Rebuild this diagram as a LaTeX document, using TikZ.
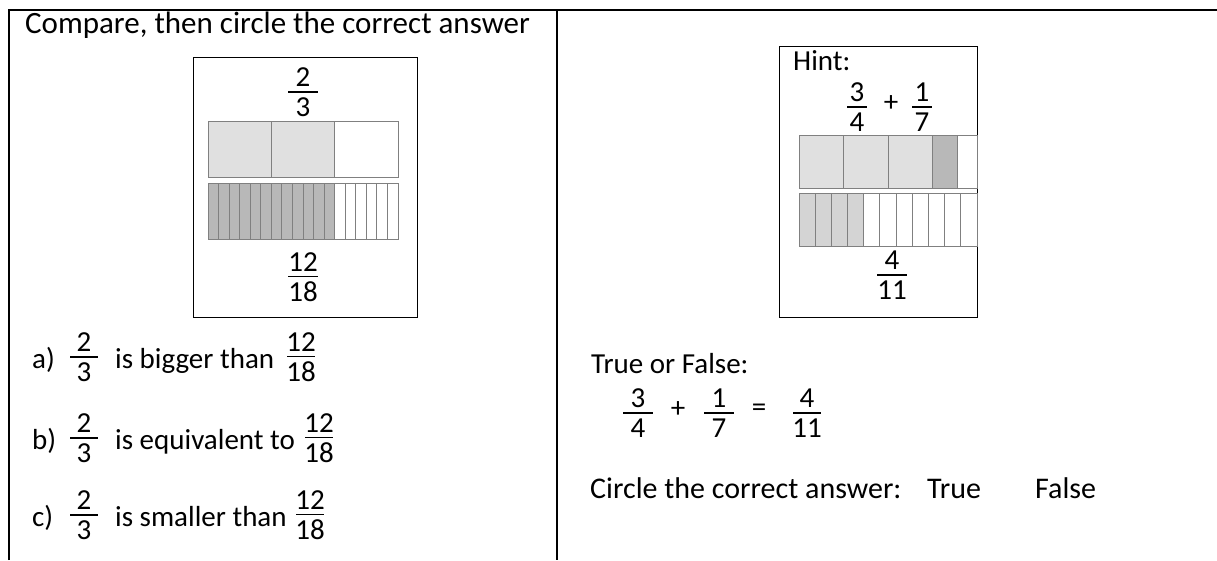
\documentclass[tikz,border=0pt]{standalone}
\usepackage{fontspec}
\setmainfont{Carlito}
\definecolor{barlight}{HTML}{E0E0E0}
\definecolor{bardark}{HTML}{B8B8B8}
\definecolor{barmid}{HTML}{D4D4D4}
\definecolor{barline}{HTML}{808080}
% stacked fraction with a fixed bar width
\newcommand{\fr}[3][28pt]{\vbox{\offinterlineskip\halign{\hfil##\hfil\cr
  #2\cr\noalign{\kern4.5pt}\rule{#1}{1.8pt}\cr\noalign{\kern4.5pt}#3\cr}}}

\begin{document}
\begin{tikzpicture}[x=1pt,y=-1pt,
  txt/.style={inner sep=0pt, font=\fontsize{29}{34}\selectfont},
  cell/.style={draw=barline, line width=1pt}]
  \useasboundingbox (0,0) rectangle (1217,560);
  % table
  \draw[line width=1.6pt] (9,560) -- (9,10) -- (1217,10);
  \draw[line width=1.6pt] (557,10) -- (557,560);

  % left cell
  \node[txt, font=\fontsize{31}{36}\selectfont, anchor=base west] (title) at (25,33)
    {Compare, then circle the correct answer};
  \draw[line width=1pt] (193,57) rectangle (417,317);
  \node[txt] (twothirds) at (303,92) {\fr[30pt]{2}{3}};
  \fill[barlight] (208,121) rectangle (334.7,177);
  \draw[cell] (208,121) rectangle (398,177);
  \foreach \x in {271.3,334.7}
    \draw[cell] (\x,121) -- (\x,177);
  \fill[bardark] (208,183) rectangle (334.7,239);
  \foreach \i in {1,...,17}
    \draw[cell] ({208+\i*190/18},183) -- ++(0,56);
  \draw[cell] (208,183) rectangle (398,239);
  \node[txt] (twelveeighteenths) at (303,277) {\fr[30pt]{12}{18}};

  \foreach \lab/\yy/\txt/\xx in {a/357/is bigger than/301,
      b/438/is equivalent to/319, c/515/is smaller than/310}{
    \node[txt, anchor=base west] (item-\lab) at (32,\yy+11) {\lab)};
    \node[txt] (left-\lab) at (84,\yy) {\fr{2}{3}};
    \node[txt, anchor=base west] (claim-\lab) at (115,\yy+11) {\txt};
    \node[txt] (right-\lab) at (\xx,\yy) {\fr{12}{18}};
  }

  % right cell
  \draw[line width=1pt] (779,46) rectangle (977,317);
  \node[txt, anchor=base west] (hint) at (793,70) {Hint:};
  \node[txt] (hint-a) at (857,107) {\fr[20pt]{3}{4}};
  \node[txt] (hint-plus) at (891,104) {+};
  \node[txt] (hint-b) at (922,107) {\fr[20pt]{1}{7}};
  \fill[barlight] (799,135) rectangle (932.5,188);
  \fill[bardark] (932.5,135) rectangle (957.9,188);
  \draw[cell] (799,135) rectangle (977,188);
  \foreach \x in {843.5,888,932.5,957.9}
    \draw[cell] (\x,135) -- (\x,188);
  \fill[barmid] (799,193) rectangle ({799+4*178/11},246);
  \foreach \i in {1,...,10}
    \draw[cell] ({799+\i*178/11},193) -- ++(0,53);
  \draw[cell] (799,193) rectangle (977,246);
  \node[txt] (hint-sum) at (892,275) {\fr[30pt]{4}{11}};

  \node[txt, anchor=base west] (question) at (591,373) {True or False:};
  \node[txt] (sum-a) at (638,413) {\fr[30pt]{3}{4}};
  \node[txt] (sum-plus) at (678,410) {+};
  \node[txt] (sum-b) at (719,413) {\fr[30pt]{1}{7}};
  \node[txt] (sum-eq) at (759,410) {=};
  \node[txt] (sum-c) at (807,413) {\fr[28pt]{4}{11}};
  \node[txt, font=\fontsize{30}{35}\selectfont, anchor=base west] (answer) at (590,498)
    {Circle the correct answer:};
  \node[txt, font=\fontsize{30}{35}\selectfont, anchor=base west] (true) at (927,498) {True};
  \node[txt, font=\fontsize{30}{35}\selectfont, anchor=base west] (false) at (1035,498) {False};
\end{tikzpicture}
\end{document}
